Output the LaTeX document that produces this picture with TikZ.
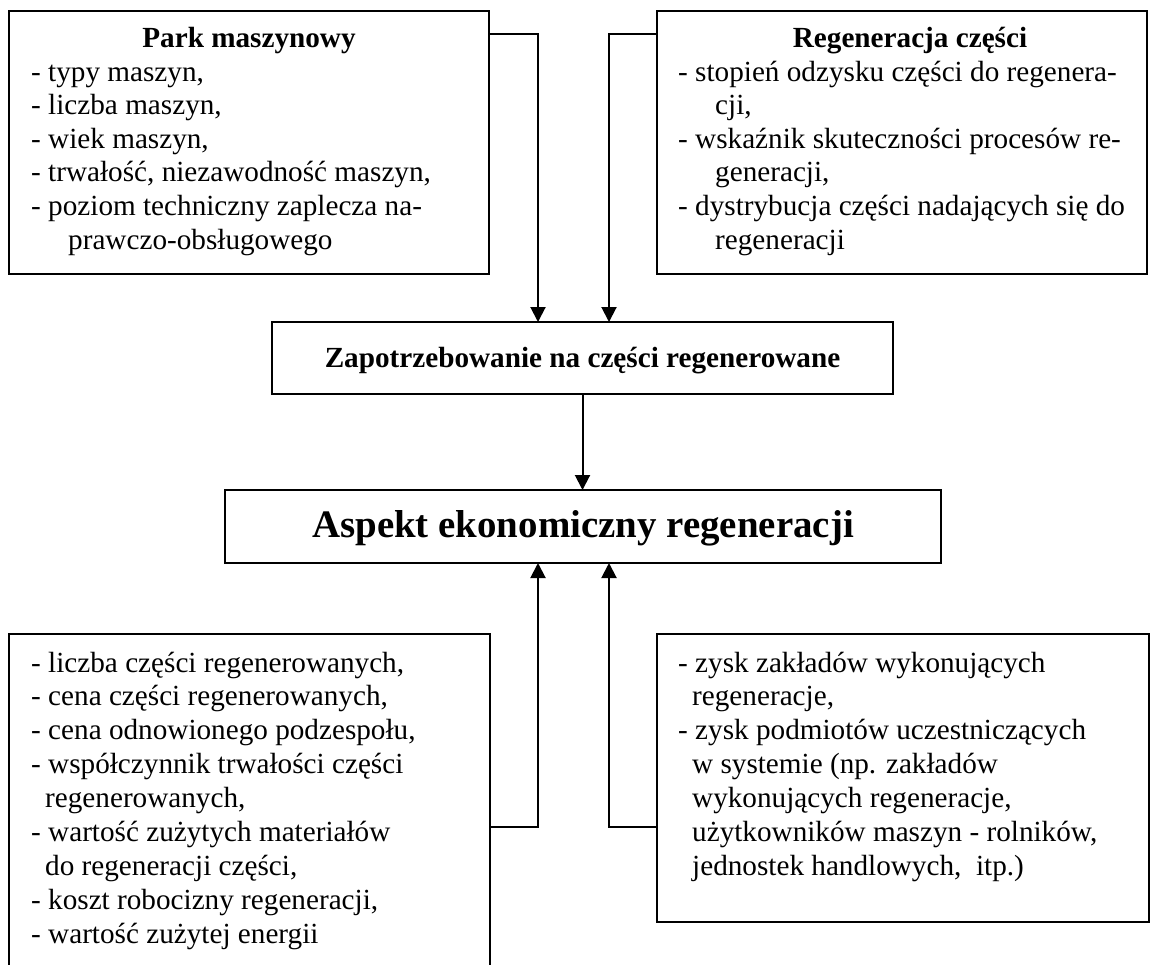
\documentclass[tikz,border=0pt]{standalone}
\usepackage{fontspec}
\setmainfont{Liberation Serif}
\usetikzlibrary{arrows.meta}
\begin{document}
\begin{tikzpicture}[x=1pt,y=-1pt,
  box/.style={draw, line width=2pt, inner sep=0pt, outer sep=0pt},
  arr/.style={line width=2pt, -{Triangle[length=15pt,width=15pt]}},
  txt/.style={inner sep=0pt, anchor=base, font=\fontsize{29.2}{33.6}\selectfont\bfseries},
  list/.style={inner sep=0pt, anchor=base west, font=\fontsize{29.2}{33.6}\selectfont},
  listb/.style={inner sep=0pt, anchor=base west, font=\fontsize{29.2}{33.9}\selectfont}]
\useasboundingbox (0,0) rectangle (1150,964);
% boxes
\node[box, minimum width=480pt, minimum height=263pt] (park) at (249,142.5) {};
\node[box, minimum width=490pt, minimum height=263pt] (reg) at (902,142.5) {};
\node[box, minimum width=621pt, minimum height=72pt] (zap) at (582.5,358) {};
\node[box, minimum width=716pt, minimum height=73pt] (asp) at (583,526.5) {};
\node[box, minimum width=481pt, minimum height=360pt] (bl) at (249.5,814) {};
\node[box, minimum width=492pt, minimum height=288pt] (br) at (903,778) {};
% texts
\node[txt] (parkt) at (249,47) {Park maszynowy};
\node[list] (parkl) at (31,81) {\parbox[t]{455pt}{- typy maszyn,\\- liczba maszyn,\\- wiek maszyn,\\- trwałość, niezawodność maszyn,\\- poziom techniczny zaplecza na-\\\hspace*{37pt}prawczo-obsługowego}};
\node[txt] (regt) at (910,47) {Regeneracja części};
\node[list] (regl) at (678,81) {\parbox[t]{465pt}{- stopień odzysku części do regenera-\\\hspace*{37pt}cji,\\- wskaźnik skuteczności procesów re-\\\hspace*{37pt}generacji,\\- dystrybucja części nadających się do\\\hspace*{37pt}regeneracji}};
\node[txt] (zapt) at (582.5,367) {Zapotrzebowanie na części regenerowane};
\node[txt, font=\fontsize{38.9}{44}\selectfont\bfseries] (aspt) at (583,537) {Aspekt ekonomiczny regeneracji};
\node[listb] (bll) at (31,672) {\parbox[t]{455pt}{- liczba części regenerowanych,\\- cena części regenerowanych,\\- cena odnowionego podzespołu,\\- współczynnik trwałości części\\\hspace*{14pt}regenerowanych,\\- wartość zużytych materiałów\\\hspace*{14pt}do regeneracji części,\\- koszt robocizny regeneracji,\\- wartość zużytej energii}};
\node[listb] (brl) at (678,672) {\parbox[t]{465pt}{- zysk zakładów wykonujących\\\hspace*{14pt}regeneracje,\\- zysk podmiotów uczestniczących\\\hspace*{14pt}w systemie (np. zakładów\\\hspace*{14pt}wykonujących regeneracje,\\\hspace*{14pt}użytkowników maszyn - rolników,\\\hspace*{14pt}jednostek handlowych,\ \ itp.)}};
% connector columns
\coordinate (c1) at (538,0);
\coordinate (c2) at (609,0);
% connectors
\draw[arr] ([yshift=-23pt]park.north east) -| (c1 |- zap.north);
\draw[arr] ([yshift=-23pt]reg.north west) -| (c2 |- zap.north);
\draw[arr] (zap.south) -- (zap.south |- asp.north);
\draw[arr] ([yshift=-193pt]bl.north east) -| (c1 |- asp.south);
\draw[arr] ([yshift=-193pt]br.north west) -| (c2 |- asp.south);
\end{tikzpicture}
\end{document}
